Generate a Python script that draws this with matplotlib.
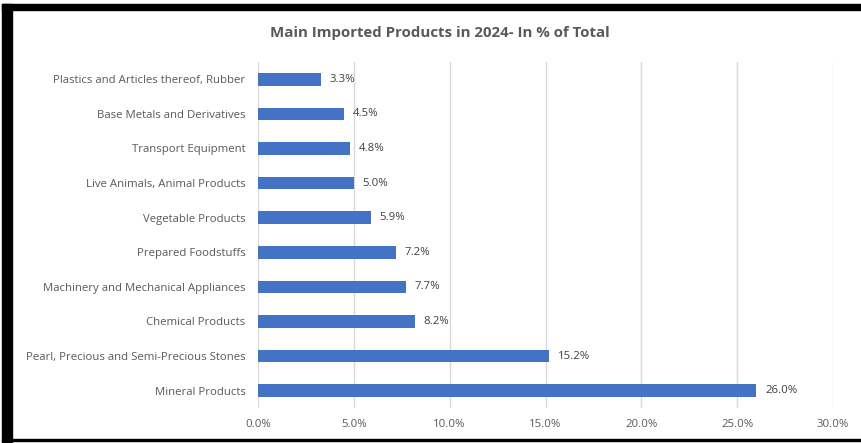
import matplotlib.pyplot as plt
from matplotlib.patches import Rectangle
from matplotlib.ticker import FuncFormatter

products = [
    "Plastics and Articles thereof, Rubber",
    "Base Metals and Derivatives",
    "Transport Equipment",
    "Live Animals, Animal Products",
    "Vegetable Products",
    "Prepared Foodstuffs",
    "Machinery and Mechanical Appliances",
    "Chemical Products",
    "Pearl, Precious and Semi-Precious Stones",
    "Mineral Products",
]
shares = [3.3, 4.5, 4.8, 5.0, 5.9, 7.2, 7.7, 8.2, 15.2, 26.0]
xticks = [0, 5, 10, 15, 20, 25, 30]

plt.rcParams['font.family'] = ['Open Sans', 'DejaVu Sans']
text_col = '#595959'
fs = 8.2

W, H = 861, 443
fig = plt.figure(figsize=(W / 100, H / 100), dpi=100)
ax = fig.add_axes([258 / W, 1 - 408 / H, (833 - 258) / W, (408 - 62) / H])

ypos = list(range(len(products)))
ax.barh(ypos, shares, height=0.36, color='#4472C4', zorder=3)
ax.set_ylim(len(products) - 0.5, -0.5)
ax.set_yticks(ypos)
ax.set_yticklabels(products, fontsize=fs, color=text_col)

for y, v in zip(ypos, shares):
    ax.text(v + 0.45, y, f"{v:.1f}%", va='center', ha='left', fontsize=fs, color='#404040')

ax.set_xlim(0, 30)
ax.set_xticks(xticks)
ax.xaxis.set_major_formatter(FuncFormatter(lambda x, _: f"{x:.1f}%"))
ax.tick_params(axis='x', labelsize=fs, colors=text_col, length=0, pad=8)
ax.tick_params(axis='y', length=0, pad=9)
ax.grid(axis='x', color='#D9D9D9', linewidth=1, zorder=0)
for s in ax.spines.values():
    s.set_visible(False)

fig.text(440 / W, 1 - 33 / H, "Main Imported Products in 2024- In % of Total",
         ha='center', va='center', fontsize=10.8, fontweight='bold', color=text_col)

# frame around the chart
fig.patches.append(Rectangle((2 / W, 1 - 10 / H), 1, 6 / H, transform=fig.transFigure,
                             color='black', zorder=10))
fig.patches.append(Rectangle((2 / W, 0), 10 / W, 1 - 4 / H, transform=fig.transFigure,
                             color='black', zorder=10))
fig.patches.append(Rectangle((2 / W, 1 - 441 / H), 1, 2 / H, transform=fig.transFigure,
                             color='black', zorder=10))

fig.savefig('out.png', dpi=100)
